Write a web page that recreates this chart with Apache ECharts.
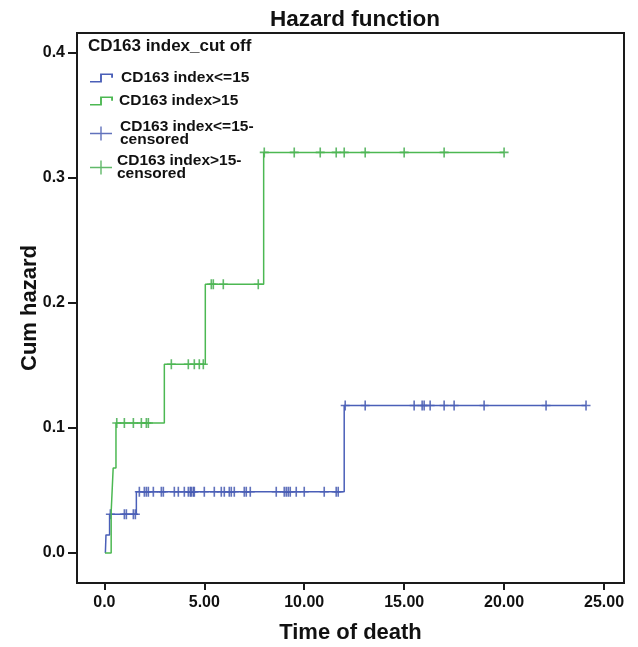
<!DOCTYPE html>
<html>
<head>
<meta charset="utf-8">
<script src="https://cdn.jsdelivr.net/npm/echarts@6/dist/echarts.min.js"></script>
<style>
  html, body { margin: 0; padding: 0; background: #fff; }
  #chart { width: 638px; height: 647px; }
</style>
</head>
<body>
<div id="chart"></div>
<script>
  // step points of the cumulative hazard (time, hazard after the step)
  const lowTimes = [0.05, 0.08, 0.26, 1.6, 12.0, 24.1];
  const lowHazard = [0, 0.0145, 0.031, 0.049, 0.118, 0.118];
  const highTimes = [0.03, 0.34, 0.44, 0.58, 3.0, 5.05, 7.97, 20.0];
  const highHazard = [0, 0.033, 0.068, 0.104, 0.151, 0.215, 0.3205, 0.3205];

  // censored times
  const lowCensored = [0.3, 1.0, 1.1, 1.45, 1.55,
    1.75, 2.0, 2.1, 2.2, 2.45, 2.85, 2.95, 3.5, 3.7, 4.0, 4.2, 4.3, 4.35, 4.45, 4.5,
    5.0, 5.5, 5.85, 6.0, 6.25, 6.35, 6.5, 7.0, 7.1, 7.3, 8.6, 9.0, 9.1, 9.2, 9.3, 9.6,
    10.0, 11.0, 11.6, 11.7,
    12.05, 13.05, 15.5, 15.9, 16.0, 16.3, 17.0, 17.5, 19.0, 22.1, 24.1];
  const highCensored = [0.62, 1.0, 1.45, 1.85, 2.1, 2.2,
    3.35, 4.2, 4.5, 4.75, 4.95,
    5.35, 5.45, 5.95, 7.7,
    8.0, 9.5, 10.8, 11.6, 12.0, 13.05, 15.0, 17.0, 20.0];

  const xTicks = [0, 5, 10, 15, 20, 25];
  const yTicks = [0, 0.1, 0.2, 0.3, 0.4];

  const names = ['CD163 index<=15', 'CD163 index>15', 'CD163 index<=15-censored', 'CD163 index>15-censored'];
  const blue = '#4a5fb8';
  const green = '#4cb852';

  function levelAt(times, hazard, t) {
    let h = hazard[0];
    for (let i = 0; i < times.length; i++) {
      if (times[i] <= t) h = hazard[i];
    }
    return h;
  }
  const pairs = (ts, hs) => ts.map((t, i) => [t, hs[i]]);

  const stepIcon = 'path://M0,9h7v-7h9v4h-1.3v-2.7h-6.4v7h-8.3z';
  const plusIcon = 'path://M0,6.3h22v1.4h-22z M10.3,0h1.4v14h-1.4z';
  const markSymbol = 'path://M0,4.2h10v1.6h-10z M4.1,0h1.8v10h-1.8z';

  const textBase = { fontFamily: 'Liberation Sans, Arial, sans-serif', fontWeight: 'bold', color: '#111' };

  function legendAt(name, icon, top, w, h, label, pad) {
    return {
      left: 90, top: top, padding: 0, orient: 'vertical', selectedMode: false,
      itemWidth: w, itemHeight: h, symbolKeepAspect: false,
      itemStyle: { borderWidth: 0 },
      data: [{ name: name, icon: icon }],
      formatter: () => label,
      textStyle: Object.assign({}, textBase, { fontSize: 15.5, lineHeight: 13, padding: [0, 0, 0, pad] })
    };
  }

  const chart = echarts.init(document.getElementById('chart'));
  chart.setOption({
    animation: false,
    title: {
      text: 'Hazard function', left: 350, top: 3, textAlign: 'center',
      textStyle: Object.assign({}, textBase, { fontSize: 22.5 })
    },
    grid: {
      left: 77, right: 14, top: 33, bottom: 64,
      outerBoundsMode: 'none', containLabel: false,
      show: true, borderColor: '#1a1a1a', borderWidth: 2
    },
    legend: [
      legendAt(names[0], stepIcon, 70, 23, 9, 'CD163 index<=15', 3),
      legendAt(names[1], stepIcon, 93, 23, 9, 'CD163 index>15', 1),
      legendAt(names[2], plusIcon, 119, 22, 14, 'CD163 index<=15-\ncensored', 3),
      legendAt(names[3], plusIcon, 153, 22, 14, 'CD163 index>15-\ncensored', 0)
    ],
    graphic: [{
      type: 'text', left: 88, top: 38,
      style: Object.assign({ text: 'CD163 index_cut off', fill: '#111' }, {
        font: 'bold 17px "Liberation Sans", Arial, sans-serif'
      })
    }],
    xAxis: {
      type: 'value', min: -1.37, max: 26.0,
      name: 'Time of death', nameLocation: 'middle', nameGap: 39, nameMoveOverlap: false,
      nameTextStyle: Object.assign({}, textBase, { fontSize: 22 }),
      axisLine: { show: true, onZero: false, lineStyle: { color: '#1a1a1a', width: 2 } },
      axisTick: { show: true, length: 7, customValues: xTicks, lineStyle: { color: '#1a1a1a', width: 2 } },
      axisLabel: Object.assign({}, textBase, {
        fontSize: 16, margin: 12, customValues: xTicks,
        formatter: v => v === 0 ? '0.0' : v.toFixed(2)
      }),
      splitLine: { show: false }
    },
    yAxis: {
      type: 'value', min: -0.024, max: 0.416,
      name: 'Cum hazard', nameLocation: 'middle', nameGap: 36, nameMoveOverlap: false,
      nameTextStyle: Object.assign({}, textBase, { fontSize: 22 }),
      axisLine: { show: true, onZero: false, lineStyle: { color: '#1a1a1a', width: 2 } },
      axisTick: { show: true, length: 9, customValues: yTicks, lineStyle: { color: '#1a1a1a', width: 2 } },
      axisLabel: Object.assign({}, textBase, {
        fontSize: 16, margin: 12, customValues: yTicks,
        formatter: v => v.toFixed(1)
      }),
      splitLine: { show: false }
    },
    series: [
      {
        name: names[0], type: 'line', step: 'end', symbol: 'none',
        color: blue, lineStyle: { color: blue, width: 1.5 },
        data: pairs(lowTimes, lowHazard)
      },
      {
        name: names[1], type: 'line', step: 'end', symbol: 'none',
        color: green, lineStyle: { color: green, width: 1.5 },
        data: pairs(highTimes, highHazard)
      },
      {
        name: names[2], type: 'scatter', symbol: markSymbol, symbolSize: [9, 10],
        color: blue, itemStyle: { color: '#3a4fab' },
        data: lowCensored.map(t => [t, levelAt(lowTimes, lowHazard, t)])
      },
      {
        name: names[3], type: 'scatter', symbol: markSymbol, symbolSize: [9, 10],
        color: green, itemStyle: { color: '#3aa845' },
        data: highCensored.map(t => [t, levelAt(highTimes, highHazard, t)])
      }
    ]
  });
</script>
</body>
</html>
